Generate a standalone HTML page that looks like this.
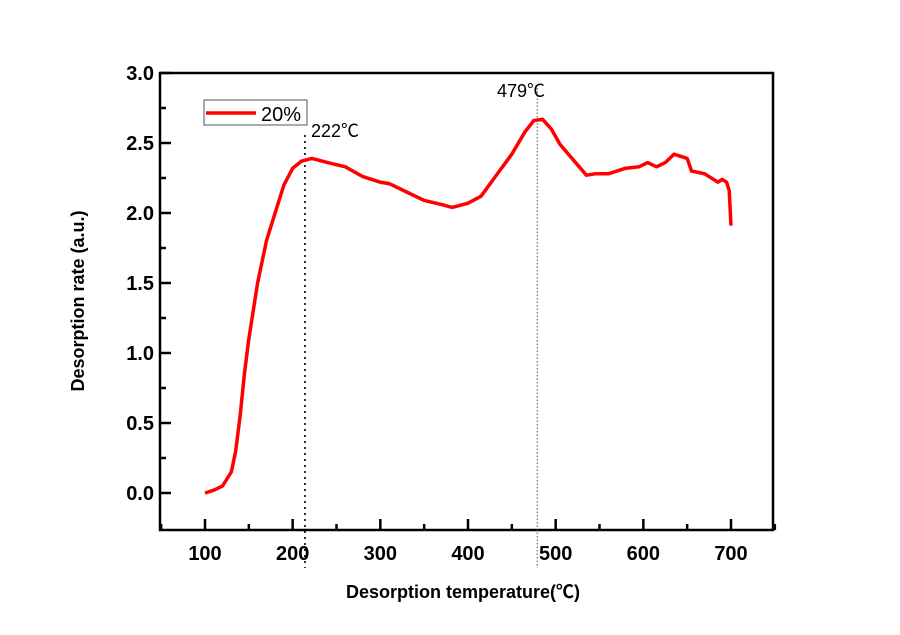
<!DOCTYPE html>
<html><head><meta charset="utf-8"><style>
body{margin:0;background:#fff}
svg{display:block}
text{font-family:"Liberation Sans","Noto Sans CJK SC",sans-serif}
.tk{font-size:20px;font-weight:bold}
</style></head><body>
<svg id="chart" width="900" height="635" viewBox="0 0 900 635"></svg>
<script>
const temps=[100,110,120,130,135,140,145,150,160,170,180,190,200,210,222,240,260,280,300,310,330,350,370,382,400,415,430,450,465,475,485,495,505,520,535,545,560,580,595,605,615,625,635,650,655,670,685,690,695,698,700];
const rates=[0.0,0.02,0.05,0.15,0.3,0.55,0.85,1.1,1.5,1.8,2.0,2.2,2.32,2.37,2.39,2.36,2.33,2.26,2.22,2.21,2.15,2.09,2.06,2.04,2.07,2.12,2.25,2.42,2.58,2.66,2.67,2.60,2.49,2.38,2.27,2.28,2.28,2.32,2.33,2.36,2.33,2.36,2.42,2.39,2.30,2.28,2.22,2.24,2.22,2.16,1.91];
const xTicks=[100,200,300,400,500,600,700];
const yTicks=[0.0,0.5,1.0,1.5,2.0,2.5,3.0];
const peaks=[214,479];
const peakLabels=["222℃","479℃"];
const NS="http://www.w3.org/2000/svg";
const svg=document.getElementById('chart');
const X=v=>205+(v-100)*526/600;
const Y=v=>493-v*140;
function mk(t,a,p){const e=document.createElementNS(NS,t);for(const k in a)e.setAttribute(k,a[k]);(p||svg).appendChild(e);return e;}
let f=mk('rect',{x:160,y:73,width:613,height:457,fill:'none',stroke:'#000','stroke-width':2.5});


for(let v=50;v<=750;v+=50){const major=v%100===0;let t=mk('line',{x1:X(v),x2:X(v),y1:530,y2:major?519:524,stroke:'#000','stroke-width':2.5});

}
for(let v=0;v<=3;v+=0.25){const major=Math.abs(v*2-Math.round(v*2))<1e-6;let t=mk('line',{x1:160,x2:major?171:166,y1:Y(v),y2:Y(v),stroke:'#000','stroke-width':2.5});

}
xTicks.forEach(v=>{let t=mk('text',{x:X(v),y:560,'text-anchor':'middle',class:'tk'});t.textContent=v;

});
yTicks.forEach(v=>{let t=mk('text',{x:154,y:Y(v)+7,'text-anchor':'end',class:'tk'});t.textContent=v.toFixed(1);

});
peaks.forEach((p,i)=>{let l=mk('line',{x1:X(p),x2:X(p),y1:i?88:135,y2:568,stroke:i?'#555':'#000','stroke-width':i?1:1.6,'stroke-dasharray':i?'1.5,2':'2,4'});


let t=mk('text',{x:i?497:311,y:i?97:137,'font-size':'18px'});t.textContent=peakLabels[i];

});
let d=temps.map((t,i)=>(i?'L':'M')+X(t).toFixed(1)+','+Y(rates[i]).toFixed(1)).join('');
let s=mk('path',{d:d,fill:'none',stroke:'#f00','stroke-width':3.5,'stroke-linejoin':'round'});


let lg=mk('g',{});


mk('rect',{x:204,y:100,width:103,height:25,fill:'#fff',stroke:'#555','stroke-width':1},lg);
mk('line',{x1:206,x2:256,y1:113,y2:113,stroke:'#f00','stroke-width':3.5},lg);
let lt=mk('text',{x:261,y:121,'font-size':'20px'},lg);lt.textContent='20%';
let xt=mk('text',{x:463,y:598,'text-anchor':'middle','font-size':'18px','font-weight':'bold'});xt.textContent='Desorption temperature(℃)';


let yt=mk('text',{x:0,y:0,'text-anchor':'middle','font-size':'18px','font-weight':'bold',transform:'translate(84,301) rotate(-90)'});yt.textContent='Desorption rate (a.u.)';


</script>
</body></html>
